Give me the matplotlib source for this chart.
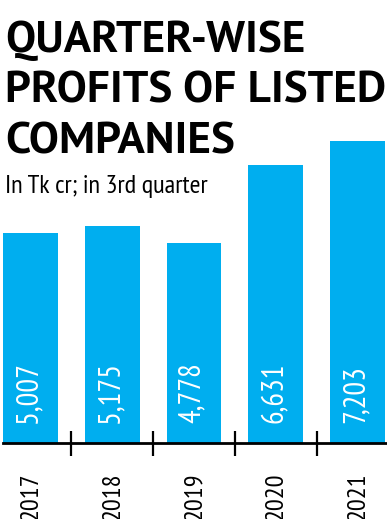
import matplotlib
matplotlib.use("Agg")
import matplotlib.pyplot as plt

years = ["2017", "2018", "2019", "2020", "2021"]
profits = [5007, 5175, 4778, 6631, 7203]
value_labels = ["5,007", "5,175", "4,778", "6,631", "7,203"]

W, H = 387, 519
fig = plt.figure(figsize=(W / 100, H / 100), dpi=100)

narrow = ["PT Sans Narrow", "DejaVu Sans"]
heavy = ["PT Sans", "DejaVu Sans"]
blue = "#00AEEF"

# axes: bottom at baseline (y=443 px), scale so 7203 reaches y=141 px
base_px = 443
ax = fig.add_axes([0, (H - base_px) / H, 1, base_px / H])
ax.set_ylim(0, base_px * max(profits) / (base_px - 141))
ax.set_xlim(-0.373, 4.361)

x = range(len(years))
ax.bar(x, profits, width=0.667, color=blue, zorder=1)
ax.axhline(0, xmin=0.008, xmax=1, color="black", linewidth=2, zorder=3, clip_on=False)

for i, lab in enumerate(value_labels):
    ax.annotate(lab, xy=(i, 0), xytext=(-1.5, 14.5), textcoords="offset points",
                rotation=90, ha="center", va="bottom", color="white",
                fontsize=22, family=narrow)
    ax.annotate(years[i], xy=(i, 0), xytext=(0.5, -21.5), textcoords="offset points",
                rotation=90, ha="center", va="top", color="black",
                fontsize=19, family=narrow, annotation_clip=False)

for s in ax.spines.values():
    s.set_visible(False)
ax.set_yticks([])
ax.set_xticks([0.5, 1.5, 2.5, 3.5])
ax.set_xticklabels([])
ax.tick_params(axis="x", direction="inout", length=18, width=1.6, color="black")

# title block
title_lines = ["QUARTER-WISE", "PROFITS OF LISTED", "COMPANIES"]
for k, line in enumerate(title_lines):
    fig.text(5 / W, 1 - (52 + 50.5 * k) / H, line, fontsize=32.5, fontweight="bold",
             family=heavy, ha="left", va="baseline")
fig.text(5 / W, 1 - 193 / H, "In Tk cr; in 3rd quarter", fontsize=19,
         family=narrow, ha="left", va="baseline")

fig.savefig("out.png", dpi=100)
